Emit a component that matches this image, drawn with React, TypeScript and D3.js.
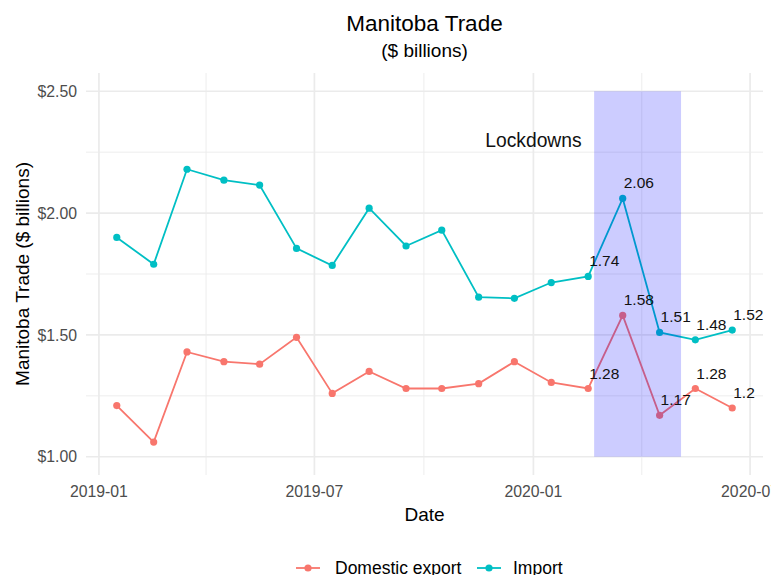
import React, { useEffect } from 'react';
import * as d3 from 'd3';

// monthly series, Jan 2019 - Jun 2020 ($ billions)
const months = [
  '2019-01', '2019-02', '2019-03', '2019-04', '2019-05', '2019-06',
  '2019-07', '2019-08', '2019-09', '2019-10', '2019-11', '2019-12',
  '2020-01', '2020-02', '2020-03', '2020-04', '2020-05', '2020-06',
];
const domesticExport = [
  1.21, 1.06, 1.43, 1.39, 1.38, 1.49, 1.26, 1.35, 1.28,
  1.28, 1.30, 1.39, 1.305, 1.28, 1.58, 1.17, 1.28, 1.2,
];
const imports = [
  1.9, 1.79, 2.18, 2.135, 2.115, 1.855, 1.785, 2.02, 1.865,
  1.93, 1.655, 1.65, 1.715, 1.74, 2.06, 1.51, 1.48, 1.52,
];
const labelFrom = '2020-02';
const xTicks = ['2019-01', '2019-07', '2020-01', '2020-07'];
const xMinor = ['2019-04', '2019-10', '2020-04'];
const yTicks = [1, 1.5, 2, 2.5];
const yMinor = [1.25, 1.75, 2.25];
const lockdown = { start: '2020-02-21', end: '2020-05-04', low: 1, high: 2.5, label: 'Lockdowns', labelAt: '2020-01-01', labelY: 2.3 };

const seriesNames = ['Domestic export', 'Import'];
const colors = ['#F8766D', '#00BFC4'];

const W = 771, H = 575;
const m = { left: 86, right: 8, top: 73, bottom: 100 };
const font = '"Liberation Sans", Arial, sans-serif';

const parseMonth = (s: string) => new Date(s + '-16T00:00:00Z');
const parseDay = (s: string) => new Date(s + 'T00:00:00Z');

const App = () => {
  useEffect(() => { document.body.style.margin = '0'; }, []);

  const dates = months.map(parseMonth);
  const span = +dates[dates.length - 1] - +dates[0];
  const x = d3.scaleUtc()
    .domain([new Date(+dates[0] - span * 0.05), new Date(+dates[dates.length - 1] + span * 0.05)])
    .range([m.left, W - m.right]);
  const y = d3.scaleLinear()
    .domain([1 - 1.5 * 0.05, 2.5 + 1.5 * 0.05])
    .range([H - m.bottom, m.top]);

  const series = [domesticExport, imports].map((vals, i) => ({
    name: seriesNames[i],
    color: colors[i],
    points: vals.map((v, j) => ({ date: dates[j], month: months[j], v })),
  }));
  const line = d3.line<{ date: Date; v: number }>().x(d => x(d.date)).y(d => y(d.v));
  const fmtY = (v: number) => '$' + d3.format('.2f')(v);

  const [x0, x1] = x.range();
  const [y0, y1] = y.range();

  return (
    <svg width={W} height={H} style={{ display: 'block', fontFamily: font }}>
      <rect width={W} height={H} fill="#fff" />
      {/* grid */}
      {yMinor.map(v => <line key={'ym' + v} x1={x0} x2={x1} y1={y(v)} y2={y(v)} stroke="#EBEBEB" strokeWidth={0.9} />)}
      {xMinor.map(s => <line key={'xm' + s} x1={x(parseDay(s + '-01'))} x2={x(parseDay(s + '-01'))} y1={y0} y2={y1} stroke="#EBEBEB" strokeWidth={0.9} />)}
      {yTicks.map(v => <line key={'y' + v} x1={x0} x2={x1} y1={y(v)} y2={y(v)} stroke="#EBEBEB" strokeWidth={1.7} />)}
      {xTicks.map(s => <line key={'x' + s} x1={x(parseDay(s + '-01'))} x2={x(parseDay(s + '-01'))} y1={y0} y2={y1} stroke="#EBEBEB" strokeWidth={1.7} />)}

      {/* axis labels */}
      {yTicks.map(v => (
        <text key={'yl' + v} x={x0 - 9} y={y(v)} dy="0.36em" textAnchor="end" fontSize={15.8} fill="#4D4D4D">{fmtY(v)}</text>
      ))}
      {xTicks.map(s => (
        <text key={'xl' + s} x={x(parseDay(s + '-01'))} y={497} textAnchor="middle" fontSize={15.8} fill="#4D4D4D">{s}</text>
      ))}

      {/* lines and points */}
      {series.map(s => (
        <g key={s.name}>
          <path d={line(s.points) || ''} fill="none" stroke={s.color} strokeWidth={1.8} />
          {s.points.map(p => <circle key={p.month} cx={x(p.date)} cy={y(p.v)} r={3.6} fill={s.color} />)}
        </g>
      ))}

      {/* lockdown band */}
      <rect x={x(parseDay(lockdown.start))} width={x(parseDay(lockdown.end)) - x(parseDay(lockdown.start))}
        y={y(lockdown.high)} height={y(lockdown.low) - y(lockdown.high)} fill="#0000FF" fillOpacity={0.2} />
      <text x={x(parseDay(lockdown.labelAt))} y={y(lockdown.labelY)} dy="0.36em" textAnchor="middle" fontSize={19.3} fill="#111">{lockdown.label}</text>

      {/* value labels */}
      {series.map(s => s.points.filter(p => p.month >= labelFrom).map(p => (
        <text key={s.name + p.month} x={x(p.date) + 1} y={y(p.v) - 10} fontSize={15.5} fill="#111">{String(p.v)}</text>
      )))}

      {/* titles */}
      <text x={(x0 + x1) / 2} y={31} textAnchor="middle" fontSize={22.5} fill="#000">Manitoba Trade</text>
      <text x={(x0 + x1) / 2} y={57} textAnchor="middle" fontSize={19} fill="#000">($ billions)</text>
      <text x={(x0 + x1) / 2} y={521} textAnchor="middle" fontSize={19} fill="#000">Date</text>
      <text transform={`translate(29,${(y0 + y1) / 2}) rotate(-90)`} textAnchor="middle" fontSize={19} fill="#000">Manitoba Trade ($ billions)</text>

      {/* legend */}
      {series.map((s, i) => {
        const kx = i === 0 ? 296 : 477;
        return (
          <g key={'lg' + s.name}>
            <line x1={kx} x2={kx + 24} y1={568} y2={568} stroke={s.color} strokeWidth={1.8} />
            <circle cx={kx + 12} cy={568} r={3.6} fill={s.color} />
            <text x={kx + (i === 0 ? 39 : 36)} y={574} fontSize={17.5} fill="#000">{s.name}</text>
          </g>
        );
      })}
    </svg>
  );
};

export default App;
